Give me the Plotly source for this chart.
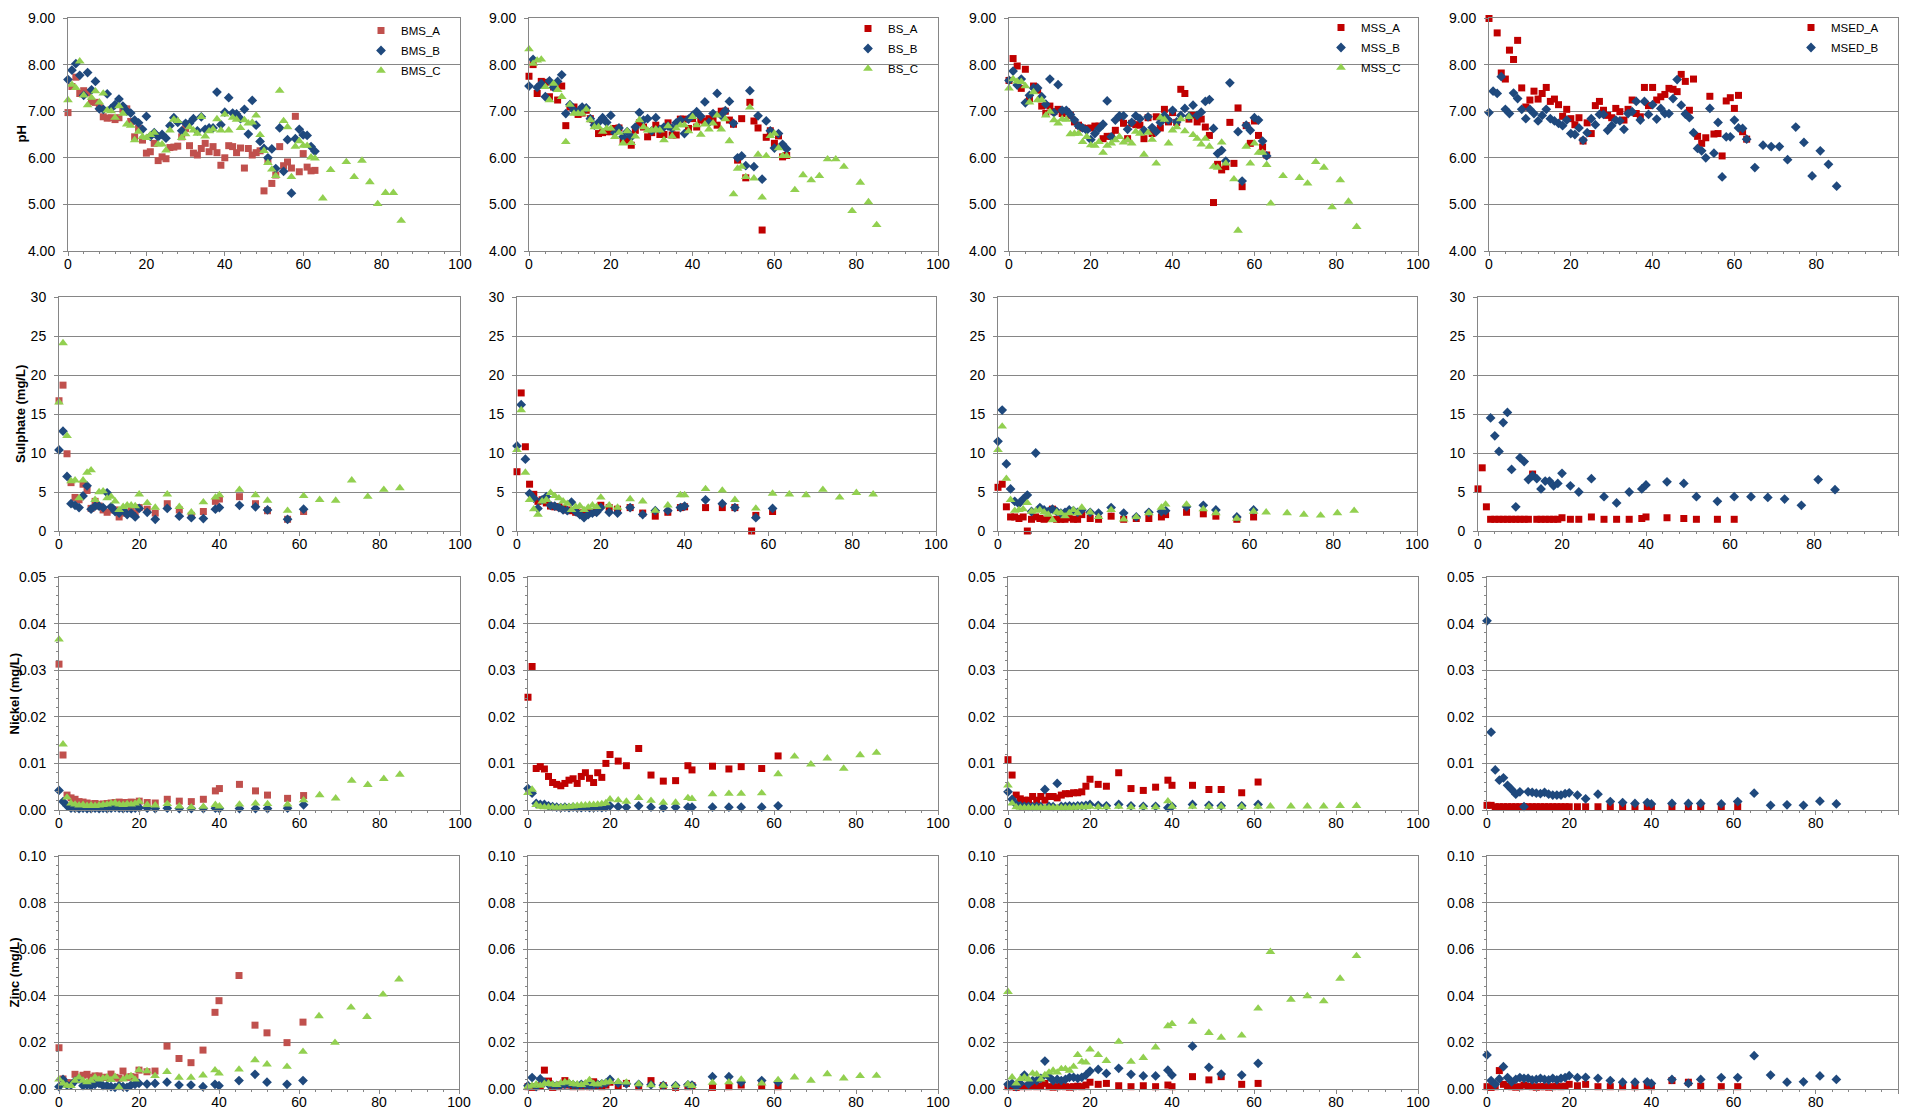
import plotly.graph_objects as go

# ---------------- DATA ----------------
PH_DAYS = [0, 1, 2, 3, 4, 5, 6, 7, 8, 9,
           10, 11, 12, 13, 14, 15, 16, 17, 18, 19,
           20, 21, 22, 23, 24, 25, 26, 27, 28, 29,
           30, 31, 32, 33, 34, 35, 36, 37, 38, 39,
           40, 41, 42, 43, 44, 45, 46, 47, 48, 49,
           50, 51, 52, 53, 54, 55, 56, 57, 58, 59,
           60, 61, 62, 63]
BMS_C_PH_EXT_DAYS = [65, 67, 71, 73, 75, 77, 79, 81, 83, 85]
BS_C_PH_EXT_DAYS = [65, 67, 69, 71, 73, 75, 77, 79, 81, 83, 85]
MSS_C_PH_EXT_DAYS = [64, 67, 71, 73, 75, 77, 79, 81, 83, 85]
MSED_B_PH_EXT_DAYS = [65, 67, 69, 71, 73, 75, 77, 79, 81, 83, 85]

CHEM_DAYS = [0, 1, 2, 3, 4, 5, 6, 7, 8, 9, 10, 11, 12, 13, 14, 15, 16, 17, 18, 19, 20,
             22, 24, 27, 30, 33, 36, 39, 40, 45, 49, 52, 57, 61]
BS_A_SO4_DAYS = [0, 1, 2, 3, 4, 5, 6, 7, 8, 9, 10, 11, 12, 13, 14, 15, 16, 17, 18, 19, 20,
                 22, 24, 27, 30, 33, 36, 39, 40, 45, 49, 52, 56, 57, 61]
CHEM_EXT_DAYS = [65, 69, 73, 77, 81, 85]
MSS_EXT_DAYS = [64, 69, 73, 77, 81, 85]

# pH
BMS_A_PH = [6.97, 7.53, 7.73, 7.38, 7.44, 7.39, 7.20, 7.19, 7.08, 6.88,
            6.85, 6.86, 6.82, 6.86, 7.04, 7.05, 6.78, 6.45, 6.63, 6.38,
            6.10, 6.13, 6.31, 5.94, 6.02, 5.98, 6.22, 6.23, 6.25, 6.45,
            6.63, 6.26, 6.10, 6.06, 6.20, 6.31, 6.13, 6.24, 6.11, 5.84,
            6.00, 6.26, 6.24, 6.11, 6.21, 5.78, 6.20, 6.06, 6.11, 6.15,
            5.29, 5.95, 5.45, 5.63, 6.24, 5.83, 5.91, 5.78, 6.89, 5.70,
            6.09, 5.80, 5.72, 5.73]
BMS_B_PH = [7.68, 7.88, 8.02, 7.77, 7.34, 7.83, 7.46, 7.64, 7.05, 7.04,
            7.37, 7.06, 7.14, 7.26, 7.11, 7.00, 6.96, 6.81, 6.75, 6.61,
            6.89, 6.46, 6.54, 6.45, 6.50, 6.42, 6.69, 6.86, 6.76, 6.58,
            6.74, 6.74, 6.84, 6.58, 6.88, 6.61, 6.64, 6.64, 7.41, 6.71,
            6.98, 7.29, 6.96, 6.94, 6.84, 7.04, 6.51, 7.23, 6.70, 6.35,
            6.20, 6.00, 6.19, 5.77, 6.64, 5.71, 6.39, 5.24, 6.41, 6.61,
            6.49, 6.48, 6.24, 6.14]
BMS_C_PH = [7.24, 7.57, 7.50, 8.07, 7.34, 7.13, 7.29, 7.43, 7.19, 7.38,
            7.02, 7.00, 6.86, 7.11, 6.95, 6.72, 6.69, 6.38, 6.56, 6.45,
            6.43, 6.49, 6.54, 6.29, 6.29, 6.16, 6.59, 6.82, 6.79, 6.43,
            6.51, 6.66, 6.59, 6.52, 6.88, 6.46, 6.57, 6.61, 6.83, 6.59,
            6.93, 6.59, 6.86, 6.82, 6.64, 6.81, 6.74, 6.76, 6.91, 6.49,
            6.15, 5.89, 5.75, 5.61, 7.44, 6.79, 6.66, 5.59, 6.24, 6.36,
            6.26, 6.26, 6.01, 5.99]
BMS_C_PH_EXT = [5.13, 5.74, 5.91, 5.59, 5.94, 5.48, 5.01, 5.25, 5.25, 4.65]

BS_A_PH = [7.75, 8.00, 7.38, 7.64, 7.62, 7.31, 7.52, 7.24, 7.54, 6.69,
           7.09, 7.09, 6.93, 6.96, 7.02, 6.84, 6.70, 6.52, 6.54, 6.56,
           6.56, 6.63, 6.64, 6.36, 6.38, 6.27, 6.59, 6.75, 6.66, 6.45,
           6.54, 6.70, 6.50, 6.50, 6.75, 6.49, 6.49, 6.83, 6.83, 6.63,
           6.84, 6.66, 6.81, 6.79, 6.84, 6.81, 6.70, 7.00, 7.00, 6.81,
           6.72, 5.95, 6.84, 5.57, 7.19, 6.79, 6.64, 4.45, 6.44, 6.58,
           6.31, 6.47, 6.02, 6.05]
BS_B_PH = [7.54, 8.11, 7.51, 7.59, 7.31, 7.65, 7.51, 7.64, 7.78, 6.95,
           7.14, 7.02, 6.99, 7.09, 7.07, 6.84, 6.70, 6.76, 6.86, 6.76,
           6.91, 6.54, 6.64, 6.45, 6.56, 6.45, 6.66, 6.97, 6.81, 6.84,
           6.58, 6.86, 6.61, 6.66, 6.68, 6.63, 6.75, 6.81, 6.52, 6.83,
           6.91, 6.99, 6.89, 7.20, 6.76, 6.95, 7.38, 6.91, 7.01, 7.21,
           6.74, 6.00, 6.04, 5.83, 7.44, 5.81, 6.90, 5.54, 6.79, 6.58,
           6.21, 6.52, 6.29, 6.19]
BS_C_PH = [8.33, 8.02, 8.09, 8.11, 7.52, 7.24, 7.59, 7.46, 7.31, 6.34,
           7.14, 6.95, 6.95, 6.95, 7.04, 6.81, 6.66, 6.66, 6.56, 6.63,
           6.63, 6.45, 6.54, 6.31, 6.57, 6.32, 6.46, 6.81, 6.66, 6.59,
           6.59, 6.61, 6.59, 6.38, 6.68, 6.46, 6.63, 6.70, 6.70, 6.57,
           6.88, 6.70, 6.50, 6.72, 6.61, 6.74, 6.91, 6.61, 6.83, 6.36,
           5.22, 5.77, 5.81, 5.59, 7.08, 5.56, 6.07, 5.15, 6.04, 6.47,
           6.52, 6.21, 6.04, 6.04]
BS_C_PH_EXT = [5.31, 5.63, 5.52, 5.61, 5.97, 5.97, 5.81, 4.86, 5.47, 5.05, 4.56]

MSS_A_PH = [7.66, 8.13, 7.97, 7.49, 7.90, 7.27, 7.54, 7.45, 7.11, 6.95,
            7.11, 6.99, 7.04, 6.95, 6.99, 6.91, 6.77, 6.70, 6.64, 6.63,
            6.64, 6.68, 6.68, 6.41, 6.46, 6.46, 6.59, 6.86, 6.74, 6.41,
            6.74, 6.71, 6.70, 6.41, 6.86, 6.52, 6.88, 6.64, 7.04, 6.77,
            6.97, 6.76, 7.47, 7.38, 6.83, 6.91, 6.77, 6.83, 6.66, 6.48,
            5.04, 5.86, 5.74, 5.81, 6.76, 5.88, 7.07, 5.38, 6.69, 6.31,
            6.79, 6.48, 6.23, 6.06]
MSS_B_PH = [7.66, 7.86, 7.56, 7.69, 7.18, 7.34, 7.50, 7.50, 7.31, 7.15,
            7.69, 6.97, 7.57, 7.02, 7.02, 6.93, 6.81, 6.68, 6.64, 6.59,
            6.39, 6.52, 6.63, 6.72, 7.22, 6.45, 6.81, 6.90, 6.90, 6.61,
            6.76, 6.90, 6.84, 6.59, 6.88, 6.65, 6.56, 6.76, 6.91, 6.81,
            7.02, 6.77, 6.91, 7.06, 6.89, 7.13, 6.91, 6.98, 7.21, 7.25,
            6.63, 6.09, 6.16, 5.93, 7.61, None, 6.56, 5.50, 6.70, 6.59,
            6.86, 6.81, 6.36, 6.04]
MSS_C_PH = [7.49, 7.69, 7.64, 7.63, 7.54, 7.19, 7.41, 7.24, 7.24, 6.91,
            6.99, 6.81, 6.74, 6.83, 6.82, 6.51, 6.52, 6.52, 6.34, 6.45,
            6.27, 6.26, 6.34, 6.11, 6.26, 6.31, 6.38, 6.45, 6.33, 6.38,
            6.31, 6.56, 6.52, 6.07, 6.54, 6.39, 5.88, 6.86, 6.82, 6.31,
            6.59, 6.66, 6.83, 6.57, 6.88, 6.49, 6.41, 6.29, 6.41, 6.24,
            5.81, 5.79, 6.33, 5.88, None, 5.54, 4.44, None, 6.24, 5.88,
            6.31, 6.11, 6.11, 5.85]
MSS_C_PH_EXT = [5.02, 5.61, 5.57, 5.45, 5.91, 5.79, 4.94, 5.52, 5.06, 4.52]

MSED_A_PH = [8.99, None, 8.68, 7.82, 7.69, 8.31, 8.11, 8.52, 7.50, 7.09,
             7.24, 7.43, 7.26, 7.38, 7.51, 7.21, 7.26, 7.14, 6.89, 7.04,
             6.84, 6.71, 6.86, 6.36, 6.75, 6.52, 7.12, 7.21, 7.02, 6.91,
             6.86, 7.06, 6.99, 6.81, 7.04, 7.24, 6.95, 6.88, 7.51, 7.12,
             7.51, 7.24, 7.31, 7.36, 7.49, 7.47, 7.42, 7.79, 7.64, 7.02,
             7.69, 6.46, 6.31, 6.43, 7.32, 6.51, 6.52, 6.04, 7.22, 7.29,
             7.06, 7.34, 6.56, 6.40]
MSED_B_PH = [6.97, 7.43, 7.38, 7.74, 7.04, 6.95, 7.39, 7.27, 7.04, 6.84,
             7.04, 6.95, 6.79, 6.91, 7.04, 6.84, 6.79, 6.74, 6.69, 6.81,
             6.52, 6.50, 6.64, 6.38, 6.54, 6.84, 6.71, 6.93, 6.93, 6.59,
             6.69, 6.81, 6.79, 6.61, 6.95, 6.99, 7.21, 6.81, 7.21, 6.93,
             7.14, 6.83, 7.06, 6.95, 6.95, 7.27, 7.68, 7.13, 6.94, 6.86,
             6.54, 6.20, 6.15, 6.00, 7.06, 6.10, 6.76, 5.59, 6.45, 6.45,
             6.81, 6.64, 6.63, 6.40]
MSED_B_PH_EXT = [5.79, 6.27, 6.24, 6.24, 5.96, 6.66, 6.33, 5.61, 6.15, 5.86, 5.39]

# Sulphate (mg/L)
BMS_A_SO4 = [16.7, 18.7, 9.9, 6.2, 4.3, 4.0, 6.0, 5.2, 2.9, 3.8, 3.2, 2.7, 2.4, 2.7, 2.7, 1.8, 2.3, 2.3, 2.7, 2.3, 3.0,
             2.8, 2.3, 3.5, 2.7, 2.0, 2.5, 3.8, 4.1, 4.4, 3.5, 2.6, 1.5, 2.5]
BMS_B_SO4 = [10.4, 12.8, 7.0, 3.5, 3.3, 3.0, 4.5, 5.8, 2.8, 3.2, 3.2, 3.0, 4.9, 3.1, 2.5, 2.3, 2.7, 2.1, 2.3, 1.8, 2.9,
             2.4, 1.5, 2.9, 1.9, 1.7, 1.6, 2.8, 3.0, 3.3, 3.1, 2.7, 1.5, 2.8]
BMS_C_SO4 = [16.5, 24.1, 12.2, 6.4, 6.5, 4.2, 6.5, 7.5, 7.8, 4.0, 5.0, 5.1, 4.2, 4.4, 3.8, 2.7, 3.1, 3.3, 3.3, 3.2, 4.7,
             3.6, 3.0, 4.7, 3.1, 2.4, 3.7, 4.3, 4.6, 5.3, 4.6, 3.9, 2.6, 4.5]
BMS_C_SO4_EXT = [4.0, 3.9, 6.5, 4.4, 5.3, 5.5]

BS_A_SO4 = [7.6, 17.7, 10.8, 6.0, 4.7, 3.8, 4.0, 3.6, 3.2, 3.1, 3.1, 2.9, 2.7, 2.6, 2.4, 2.3, 2.4, 2.5, 2.4, 2.6, 3.3,
            3.0, 2.8, 3.0, 2.3, 1.9, 2.4, 3.0, 3.1, 3.0, 3.0, 3.0, 0.0, 2.0, 2.5]
BS_B_SO4 = [10.9, 16.2, 9.2, 4.8, 4.2, 2.9, 4.0, 4.4, 3.3, 3.2, 3.0, 2.7, 2.6, 3.7, 2.5, 2.1, 1.7, 2.1, 2.3, 2.4, 3.0,
            2.4, 2.3, 3.0, 2.1, 2.6, 2.6, 3.0, 3.2, 4.0, 3.5, 3.0, 1.7, 2.9]
BS_C_SO4 = [10.4, 15.5, 7.5, 4.0, 2.8, 2.1, 3.8, 4.0, 4.9, 4.5, 4.2, 3.8, 3.5, 2.7, 3.1, 3.2, 2.7, 3.0, 3.3, 3.1, 4.3,
            3.3, 3.0, 4.1, 3.8, 2.6, 3.3, 4.6, 4.6, 5.4, 5.2, 4.0, 2.9, 4.8]
BS_C_SO4_EXT = [4.7, 4.6, 5.3, 4.3, 4.9, 4.7]

MSS_A_SO4 = [5.6, 6.0, 3.1, 1.8, 1.8, 1.6, 1.8, 0.0, 1.5, 1.8, 1.6, 1.5, 1.6, 2.8, 1.5, 1.5, 1.5, 1.7, 1.5, 1.5, 2.1,
             1.6, 1.5, 1.9, 1.5, 1.6, 1.6, 1.8, 2.1, 2.4, 2.2, 1.9, 1.5, 1.8]
MSS_B_SO4 = [11.5, 15.5, 8.6, 5.4, 3.8, 3.5, 4.1, 4.6, 2.5, 10.0, 3.0, 2.7, 2.5, 2.8, 2.5, 2.3, 2.4, 2.7, 2.6, 2.4, 2.7,
             2.4, 2.3, 3.0, 2.3, 1.8, 2.4, 2.5, 2.6, 3.1, 3.3, 2.7, 1.8, 2.7]
MSS_C_SO4 = [10.4, 13.4, 6.7, 4.0, 2.6, 2.7, 2.8, 3.6, 2.5, 2.6, 2.7, 2.4, 2.1, 1.4, 2.4, 2.3, 1.9, 2.3, 2.7, 2.3, 3.0,
             2.4, 1.8, 2.7, 1.5, 1.8, 2.3, 3.0, 3.4, 3.4, 2.8, 2.3, 1.6, 2.5]
MSS_C_SO4_EXT = [2.4, 2.3, 2.1, 2.0, 2.3, 2.6]

MSED_A_SO4 = [5.4, 8.1, 3.1, 1.5, 1.5, 1.5, 1.5, 1.5, 1.5, 1.5, 1.5, 1.5, 1.5, 7.3, 1.5, 1.5, 1.5, 1.5, 1.5, 1.5, 1.7,
              1.5, 1.5, 1.8, 1.5, 1.5, 1.5, 1.6, 1.8, 1.7, 1.6, 1.5, 1.5, 1.5]
MSED_B_SO4 = [None, None, None, 14.5, 12.2, 10.2, 13.9, 15.2, 7.9, 3.1, 9.4, 8.9, 6.6, 7.1, 6.7, 5.4, 6.4, 6.4, 5.8, 6.1, 7.4,
              5.8, 5.0, 6.7, 4.4, 3.6, 5.0, 5.4, 5.9, 6.3, 6.1, 4.4, 3.8, 4.4]
MSED_B_SO4_EXT = [4.4, 4.3, 4.1, 3.3, 6.6, 5.3]

# Nickel (mg/L)
BMS_A_NI = [0.0313, 0.0118, 0.0032, 0.0026, 0.0023, 0.0018, 0.0017, 0.0015, 0.0013, 0.0014, 0.0012, 0.0013, 0.0014,
            0.0015, 0.0016, 0.0017, 0.0016, 0.0016, 0.0017, 0.0016, 0.0019,
            0.0016, 0.0015, 0.0023, 0.0019, 0.0018, 0.0023, 0.0041, 0.0046, 0.0055, 0.0041, 0.0032, 0.0025, 0.0031]
BMS_B_NI = [0.0042, 0.0018, 0.0009, 0.0004, 0.0004, 0.0003, 0.0004, 0.0003, 0.0003, 0.0004, 0.0003, 0.0004, 0.0003,
            0.0004, 0.0005, 0.0004, 0.0003, 0.0004, 0.0003, 0.0004, 0.0005,
            0.0004, 0.0003, 0.0004, 0.0003, 0.0003, 0.0003, 0.0004, 0.0003, 0.0003, 0.0003, 0.0003, 0.0004, 0.0011]
BMS_C_NI = [0.0366, 0.0141, 0.0027, 0.0014, 0.0012, 0.0010, 0.0011, 0.0009, 0.0010, 0.0009, 0.0010, 0.0011, 0.0012,
            0.0014, 0.0015, 0.0012, 0.0011, 0.0013, 0.0012, 0.0014, 0.0018,
            0.0011, 0.0010, 0.0013, 0.0008, 0.0006, 0.0007, 0.0011, 0.0008, 0.0012, 0.0014, 0.0013, 0.0012, 0.0021]
BMS_C_NI_EXT = [0.0032, 0.0025, 0.0063, 0.0054, 0.0067, 0.0076]

BS_A_NI = [0.0242, 0.0308, 0.0089, 0.0093, 0.0088, 0.0072, 0.0059, 0.0055, 0.0052, 0.0057, 0.0064, 0.0067, 0.0057,
           0.0072, 0.0080, 0.0068, 0.0059, 0.0080, 0.0070, 0.0100, 0.0119,
           0.0105, 0.0095, 0.0132, 0.0075, 0.0062, 0.0063, 0.0095, 0.0086, 0.0094, 0.0088, 0.0093, 0.0089, 0.0116]
BS_B_NI = [0.0046, 0.0036, 0.0014, 0.0012, 0.0012, 0.0009, 0.0007, 0.0006, 0.0005, 0.0006, 0.0005, 0.0006, 0.0005,
           0.0005, 0.0006, 0.0005, 0.0005, 0.0006, 0.0005, 0.0006, 0.0009,
           0.0007, 0.0006, 0.0009, 0.0006, 0.0005, 0.0006, 0.0006, 0.0006, 0.0006, 0.0006, 0.0006, 0.0006, 0.0009]
BS_C_NI = [0.0037, 0.0044, 0.0011, 0.0007, 0.0006, 0.0006, 0.0006, 0.0005, 0.0006, 0.0006, 0.0007, 0.0008, 0.0009,
           0.0010, 0.0010, 0.0011, 0.0011, 0.0012, 0.0013, 0.0015, 0.0023,
           0.0021, 0.0018, 0.0026, 0.0020, 0.0016, 0.0016, 0.0026, 0.0024, 0.0034, 0.0035, 0.0035, 0.0036, 0.0077]
BS_C_NI_EXT = [0.0115, 0.0098, 0.0111, 0.0089, 0.0118, 0.0123]

MSS_A_NI = [0.0108, 0.0075, 0.0032, 0.0024, 0.0021, 0.0021, 0.0029, 0.0021, 0.0029, 0.0021, 0.0029, 0.0029, 0.0026,
            0.0032, 0.0035, 0.0035, 0.0037, 0.0037, 0.0039, 0.0051, 0.0066,
            0.0055, 0.0051, 0.0080, 0.0046, 0.0042, 0.0049, 0.0064, 0.0053, 0.0053, 0.0044, 0.0044, 0.0037, 0.0060]
MSS_B_NI = [0.0039, 0.0023, 0.0012, 0.0009, 0.0008, 0.0008, 0.0007, 0.0008, 0.0007, 0.0044, 0.0008, 0.0007, 0.0057,
            0.0008, 0.0008, 0.0009, 0.0008, 0.0009, 0.0009, 0.0010, 0.0012,
            0.0010, 0.0009, 0.0012, 0.0009, 0.0008, 0.0008, 0.0005, 0.0008, 0.0012, 0.0010, 0.0009, 0.0009, 0.0012]
MSS_C_NI = [0.0053, 0.0014, 0.0006, 0.0005, 0.0005, 0.0005, 0.0005, 0.0005, 0.0005, 0.0005, 0.0005, 0.0005, 0.0005,
            0.0005, 0.0005, 0.0005, 0.0005, 0.0006, 0.0006, 0.0006, 0.0007,
            0.0006, 0.0006, 0.0007, 0.0006, 0.0006, 0.0006, 0.0019, 0.0007, 0.0007, 0.0007, 0.0007, 0.0007, 0.0007]
MSS_C_NI_EXT = [0.0008, 0.0008, 0.0008, 0.0008, 0.0009, 0.0009]

MSED_A_NI = [0.0010, 0.0010, 0.0007, 0.0007, 0.0007, 0.0007, 0.0007, 0.0007, 0.0007, 0.0007, 0.0007, 0.0007, 0.0007,
             0.0007, 0.0007, 0.0007, 0.0007, 0.0007, 0.0007, 0.0007, 0.0007,
             0.0007, 0.0007, 0.0007, 0.0007, 0.0007, 0.0007, 0.0007, 0.0007, 0.0007, 0.0007, 0.0007, 0.0007, 0.0007]
MSED_B_NI = [0.0406, 0.0167, 0.0086, 0.0064, 0.0069, 0.0053, 0.0044, 0.0034, 0.0039, 0.0007, 0.0039, 0.0038, 0.0036,
             0.0035, 0.0038, 0.0034, 0.0032, 0.0032, 0.0032, 0.0035, 0.0037,
             0.0032, 0.0024, 0.0034, 0.0018, 0.0016, 0.0014, 0.0016, 0.0013, 0.0014, 0.0014, 0.0014, 0.0013, 0.0018]
MSED_B_NI_EXT = [0.0036, 0.0010, 0.0011, 0.0010, 0.0019, 0.0013]

# Zinc (mg/L)
BMS_A_ZN = [0.0177, 0.0043, 0.0027, 0.0027, 0.0063, 0.0050, 0.0059, 0.0063, 0.0050, 0.0056, 0.0056, 0.0050, 0.0050,
            0.0064, 0.0050, 0.0046, 0.0077, 0.0050, 0.0053, 0.0050, 0.0081,
            0.0074, 0.0077, 0.0184, 0.0131, 0.0113, 0.0167, 0.0329, 0.0379, 0.0487, 0.0274, 0.0241, 0.0199, 0.0287]
BMS_B_ZN = [0.0010, 0.0041, 0.0017, 0.0017, 0.0034, 0.0043, 0.0014, 0.0017, 0.0013, 0.0020, 0.0024, 0.0014, 0.0014,
            0.0010, 0.0007, 0.0014, 0.0010, 0.0007, 0.0017, 0.0020, 0.0024,
            0.0021, 0.0024, 0.0029, 0.0017, 0.0017, 0.0010, 0.0020, 0.0014, 0.0036, 0.0063, 0.0029, 0.0020, 0.0036]
BMS_C_ZN = [0.0041, 0.0024, 0.0014, 0.0013, 0.0036, 0.0050, 0.0036, 0.0029, 0.0036, 0.0050, 0.0041, 0.0046, 0.0050,
            0.0039, 0.0053, 0.0007, 0.0041, 0.0050, 0.0056, 0.0041, 0.0081,
            0.0077, 0.0056, 0.0074, 0.0049, 0.0049, 0.0059, 0.0081, 0.0067, 0.0084, 0.0124, 0.0106, 0.0096, 0.0160]
BMS_C_ZN_EXT = [0.0313, 0.0199, 0.0350, 0.0310, 0.0406, 0.0471]

BS_A_ZN = [0.0010, 0.0007, 0.0010, 0.0014, 0.0081, 0.0034, 0.0007, 0.0010, 0.0017, 0.0036, 0.0017, 0.0010, 0.0014,
           0.0010, 0.0017, 0.0010, 0.0031, 0.0013, 0.0010, 0.0017, 0.0029,
           0.0013, 0.0024, 0.0010, 0.0036, 0.0014, 0.0007, 0.0010, 0.0014, 0.0007, 0.0010, 0.0017, 0.0013, 0.0010]
BS_B_ZN = [0.0014, 0.0049, 0.0010, 0.0043, 0.0029, 0.0020, 0.0017, 0.0015, 0.0018, 0.0020, 0.0022, 0.0018, 0.0016,
           0.0020, 0.0018, 0.0015, 0.0017, 0.0020, 0.0022, 0.0025, 0.0041,
           0.0025, 0.0022, 0.0020, 0.0018, 0.0016, 0.0015, 0.0018, 0.0017, 0.0053, 0.0053, 0.0029, 0.0036, 0.0029]
BS_C_ZN = [0.0010, 0.0014, 0.0020, 0.0014, 0.0022, 0.0025, 0.0020, 0.0018, 0.0025, 0.0030, 0.0028, 0.0022, 0.0020,
           0.0018, 0.0025, 0.0039, 0.0022, 0.0020, 0.0025, 0.0028, 0.0031,
           0.0031, 0.0028, 0.0021, 0.0017, 0.0014, 0.0014, 0.0020, 0.0013, 0.0027, 0.0029, 0.0041, 0.0024, 0.0039]
BS_C_ZN_EXT = [0.0050, 0.0036, 0.0064, 0.0046, 0.0056, 0.0057]

MSS_A_ZN = [0.0010, 0.0010, 0.0007, 0.0010, 0.0012, 0.0010, 0.0015, 0.0010, 0.0012, 0.0024, 0.0010, 0.0008, 0.0010,
            0.0012, 0.0010, 0.0008, 0.0010, 0.0012, 0.0010, 0.0017, 0.0029,
            0.0020, 0.0024, 0.0014, 0.0010, 0.0014, 0.0010, 0.0017, 0.0010, 0.0053, 0.0039, 0.0053, 0.0020, 0.0024]
MSS_B_ZN = [0.0020, 0.0024, 0.0010, 0.0024, 0.0060, 0.0021, 0.0036, 0.0036, 0.0046, 0.0120, 0.0053, 0.0036, 0.0041,
            0.0036, 0.0041, 0.0050, 0.0050, 0.0046, 0.0050, 0.0060, 0.0077,
            0.0084, 0.0067, 0.0089, 0.0063, 0.0056, 0.0056, 0.0081, 0.0060, 0.0184, 0.0093, 0.0064, 0.0060, 0.0110]
MSS_C_ZN = [0.0417, 0.0050, 0.0024, 0.0043, 0.0050, 0.0041, 0.0067, 0.0063, 0.0041, 0.0060, 0.0071, 0.0079, 0.0071,
            0.0086, 0.0086, 0.0079, 0.0096, 0.0146, 0.0117, 0.0114, 0.0170,
            0.0146, 0.0121, 0.0203, 0.0117, 0.0134, 0.0179, 0.0270, 0.0279, 0.0289, 0.0241, 0.0221, 0.0230, 0.0346]
MSS_C_ZN_EXT = [0.0589, 0.0384, 0.0399, 0.0377, 0.0474, 0.0571]

MSED_A_ZN = [0.0010, 0.0007, 0.0010, 0.0079, 0.0020, 0.0012, 0.0010, 0.0008, 0.0010, 0.0017, 0.0012, 0.0010, 0.0008,
             0.0010, 0.0010, 0.0008, 0.0010, 0.0012, 0.0010, 0.0012, 0.0020,
             0.0014, 0.0020, 0.0010, 0.0010, 0.0010, 0.0010, 0.0012, 0.0010, 0.0036, 0.0029, 0.0012, 0.0010, 0.0010]
MSED_B_ZN = [0.0146, 0.0036, 0.0020, 0.0043, 0.0096, 0.0049, 0.0031, 0.0041, 0.0049, 0.0046, 0.0046, 0.0039, 0.0041,
             0.0046, 0.0041, 0.0039, 0.0046, 0.0039, 0.0046, 0.0049, 0.0057,
             0.0049, 0.0050, 0.0046, 0.0036, 0.0029, 0.0029, 0.0031, 0.0024, 0.0041, 0.0024, 0.0041, 0.0049, 0.0049]
MSED_B_ZN_EXT = [0.0143, 0.0060, 0.0029, 0.0031, 0.0056, 0.0041]

ROW_TITLES = ["pH", "Sulphate (mg/L)", "Nickel (mg/L)", "Zinc (mg/L)"]

# ---------------- STYLE / LAYOUT ----------------
PAGE_MARGIN = 8                 # default browser body margin
W, H = 1912 - 2 * PAGE_MARGIN, 1120 - 2 * PAGE_MARGIN
FONT = "Liberation Sans, Arial, sans-serif"
AXIS_GREY = "#868686"
RED_LIGHT = "#C0504D"
RED_DARK = "#C00000"
BLUE = "#1F497D"
GREEN = "#92D050"

STYLE = {
    "A": dict(symbol="square", size=7),
    "B": dict(symbol="diamond", size=7.5),
    "C": dict(symbol="triangle-up", size=8.5),
}

# plot-area boxes in page pixels
ROW_Y = [(18, 251), (297, 531), (577, 810), (856, 1089)]
COL_X = [
    [(68, 460), (529, 938), (1009, 1418), (1489, 1898)],
    [(59, 460), (517, 936), (998, 1417), (1478, 1898)],
    [(59, 460), (528, 938), (1008, 1418), (1487, 1898)],
    [(59, 459), (528, 938), (1008, 1418), (1487, 1898)],
]
Y_AXES = [
    dict(range=[4, 9], dtick=1, tickformat=".2f", minor=None),
    dict(range=[0, 30], dtick=5, tickformat="d", minor=None),
    dict(range=[0, 0.05], dtick=0.01, tickformat=".2f", minor=0.002),
    dict(range=[0, 0.1], dtick=0.02, tickformat=".2f", minor=0.004),
]
TITLE_X = [21, 21, 14, 14]


def fx(px):
    return (px - PAGE_MARGIN) / W


def fy(py):
    return 1 - (py - PAGE_MARGIN) / H


PANELS = [
    [
        [("BMS_A", "A", PH_DAYS, BMS_A_PH, RED_LIGHT),
         ("BMS_B", "B", PH_DAYS, BMS_B_PH, BLUE),
         ("BMS_C", "C", PH_DAYS + BMS_C_PH_EXT_DAYS, BMS_C_PH + BMS_C_PH_EXT, GREEN)],
        [("BS_A", "A", PH_DAYS, BS_A_PH, RED_DARK),
         ("BS_B", "B", PH_DAYS, BS_B_PH, BLUE),
         ("BS_C", "C", PH_DAYS + BS_C_PH_EXT_DAYS, BS_C_PH + BS_C_PH_EXT, GREEN)],
        [("MSS_A", "A", PH_DAYS, MSS_A_PH, RED_DARK),
         ("MSS_B", "B", PH_DAYS, MSS_B_PH, BLUE),
         ("MSS_C", "C", PH_DAYS + MSS_C_PH_EXT_DAYS, MSS_C_PH + MSS_C_PH_EXT, GREEN)],
        [("MSED_A", "A", PH_DAYS, MSED_A_PH, RED_DARK),
         ("MSED_B", "B", PH_DAYS + MSED_B_PH_EXT_DAYS, MSED_B_PH + MSED_B_PH_EXT, BLUE)],
    ],
    [
        [("BMS_A", "A", CHEM_DAYS, BMS_A_SO4, RED_LIGHT),
         ("BMS_B", "B", CHEM_DAYS, BMS_B_SO4, BLUE),
         ("BMS_C", "C", CHEM_DAYS + CHEM_EXT_DAYS, BMS_C_SO4 + BMS_C_SO4_EXT, GREEN)],
        [("BS_A", "A", BS_A_SO4_DAYS, BS_A_SO4, RED_DARK),
         ("BS_B", "B", CHEM_DAYS, BS_B_SO4, BLUE),
         ("BS_C", "C", CHEM_DAYS + CHEM_EXT_DAYS, BS_C_SO4 + BS_C_SO4_EXT, GREEN)],
        [("MSS_A", "A", CHEM_DAYS, MSS_A_SO4, RED_DARK),
         ("MSS_B", "B", CHEM_DAYS, MSS_B_SO4, BLUE),
         ("MSS_C", "C", CHEM_DAYS + MSS_EXT_DAYS, MSS_C_SO4 + MSS_C_SO4_EXT, GREEN)],
        [("MSED_A", "A", CHEM_DAYS, MSED_A_SO4, RED_DARK),
         ("MSED_B", "B", CHEM_DAYS + CHEM_EXT_DAYS, MSED_B_SO4 + MSED_B_SO4_EXT, BLUE)],
    ],
    [
        [("BMS_A", "A", CHEM_DAYS, BMS_A_NI, RED_LIGHT),
         ("BMS_B", "B", CHEM_DAYS, BMS_B_NI, BLUE),
         ("BMS_C", "C", CHEM_DAYS + CHEM_EXT_DAYS, BMS_C_NI + BMS_C_NI_EXT, GREEN)],
        [("BS_A", "A", CHEM_DAYS, BS_A_NI, RED_DARK),
         ("BS_B", "B", CHEM_DAYS, BS_B_NI, BLUE),
         ("BS_C", "C", CHEM_DAYS + CHEM_EXT_DAYS, BS_C_NI + BS_C_NI_EXT, GREEN)],
        [("MSS_A", "A", CHEM_DAYS, MSS_A_NI, RED_DARK),
         ("MSS_B", "B", CHEM_DAYS, MSS_B_NI, BLUE),
         ("MSS_C", "C", CHEM_DAYS + MSS_EXT_DAYS, MSS_C_NI + MSS_C_NI_EXT, GREEN)],
        [("MSED_A", "A", CHEM_DAYS, MSED_A_NI, RED_DARK),
         ("MSED_B", "B", CHEM_DAYS + CHEM_EXT_DAYS, MSED_B_NI + MSED_B_NI_EXT, BLUE)],
    ],
    [
        [("BMS_A", "A", CHEM_DAYS, BMS_A_ZN, RED_LIGHT),
         ("BMS_B", "B", CHEM_DAYS, BMS_B_ZN, BLUE),
         ("BMS_C", "C", CHEM_DAYS + CHEM_EXT_DAYS, BMS_C_ZN + BMS_C_ZN_EXT, GREEN)],
        [("BS_A", "A", CHEM_DAYS, BS_A_ZN, RED_DARK),
         ("BS_B", "B", CHEM_DAYS, BS_B_ZN, BLUE),
         ("BS_C", "C", CHEM_DAYS + CHEM_EXT_DAYS, BS_C_ZN + BS_C_ZN_EXT, GREEN)],
        [("MSS_A", "A", CHEM_DAYS, MSS_A_ZN, RED_DARK),
         ("MSS_B", "B", CHEM_DAYS, MSS_B_ZN, BLUE),
         ("MSS_C", "C", CHEM_DAYS + MSS_EXT_DAYS, MSS_C_ZN + MSS_C_ZN_EXT, GREEN)],
        [("MSED_A", "A", CHEM_DAYS, MSED_A_ZN, RED_DARK),
         ("MSED_B", "B", CHEM_DAYS + CHEM_EXT_DAYS, MSED_B_ZN + MSED_B_ZN_EXT, BLUE)],
    ],
]

# legend anchor (text start x px, first item centre y px) in page pixels
LEGEND_POS = [(397, 30), (884, 28), (1357, 27), (1827, 27)]
LEGEND_NAMES = ["legend", "legend2", "legend3", "legend4"]

fig = go.Figure()
layout = dict(
    width=W, height=H, autosize=False,
    margin=dict(l=0, r=0, t=0, b=0, pad=0),
    paper_bgcolor="white", plot_bgcolor="white",
    font=dict(family=FONT, color="#000000", size=14),
    annotations=[],
)

for r in range(4):
    top, bot = ROW_Y[r]
    ycfg = Y_AXES[r]
    for c in range(4):
        idx = r * 4 + c + 1
        sfx = "" if idx == 1 else str(idx)
        left, right = COL_X[r][c]
        xa = dict(
            domain=[fx(left), fx(right)], anchor="y" + sfx,
            range=[0, 100], tick0=0, dtick=20, showgrid=False, zeroline=False,
            showline=True, linecolor=AXIS_GREY, linewidth=1, mirror=True,
            ticks="outside", ticklen=4, tickcolor=AXIS_GREY, tickwidth=1,
            ticklabelstandoff=-4,
            tickfont=dict(family=FONT, size=14, color="#000000"),
            minor=dict(dtick=4, ticks="outside", ticklen=2, tickcolor=AXIS_GREY, showgrid=False),
            automargin=False, fixedrange=True,
        )
        ya = dict(
            domain=[fy(bot), fy(top)], anchor="x" + sfx,
            range=ycfg["range"], tick0=0, dtick=ycfg["dtick"], tickformat=ycfg["tickformat"],
            showgrid=True, gridcolor=AXIS_GREY, gridwidth=1, zeroline=False,
            showline=True, linecolor=AXIS_GREY, linewidth=1, mirror=True,
            ticks="outside", ticklen=4, tickcolor=AXIS_GREY, tickwidth=1,
            ticklabelstandoff=5,
            tickfont=dict(family=FONT, size=14, color="#000000"),
            automargin=False, fixedrange=True,
        )
        if ycfg["minor"]:
            ya["minor"] = dict(dtick=ycfg["minor"], ticks="outside", ticklen=2,
                               tickcolor=AXIS_GREY, showgrid=False)
        layout["xaxis" + sfx] = xa
        layout["yaxis" + sfx] = ya

        for (name, kind, xs, ys, col) in PANELS[r][c]:
            st = STYLE[kind]
            fig.add_trace(go.Scatter(
                x=xs, y=ys, mode="markers", name=name,
                xaxis="x" + sfx, yaxis="y" + sfx,
                marker=dict(symbol=st["symbol"], size=st["size"], color=col,
                            line=dict(width=0)),
                cliponaxis=False,
                showlegend=(r == 0),
                legend=LEGEND_NAMES[c] if r == 0 else None,
                legendgroup=name + "_r%d" % r,
                hoverinfo="x+y+name",
            ))

    layout["annotations"].append(dict(
        text=ROW_TITLES[r], textangle=-90, xref="paper", yref="paper",
        x=fx(TITLE_X[r]), y=fy((top + bot) / 2), xanchor="center", yanchor="middle",
        showarrow=False, font=dict(family=FONT, size=13, color="#000000", weight="bold"),
    ))

for c in range(4):
    tx, ty = LEGEND_POS[c]
    layout[LEGEND_NAMES[c]] = dict(
        x=fx(tx - 36), y=fy(ty - 14), xanchor="left", yanchor="top",
        bgcolor="rgba(255,255,255,0)", borderwidth=0,
        font=dict(family=FONT, size=11.5, color="#000000"),
        tracegroupgap=1, itemsizing="trace",
    )

fig.update_layout(**layout)
fig.write_html("out.html", include_plotlyjs=True, config={"displayModeBar": False})
